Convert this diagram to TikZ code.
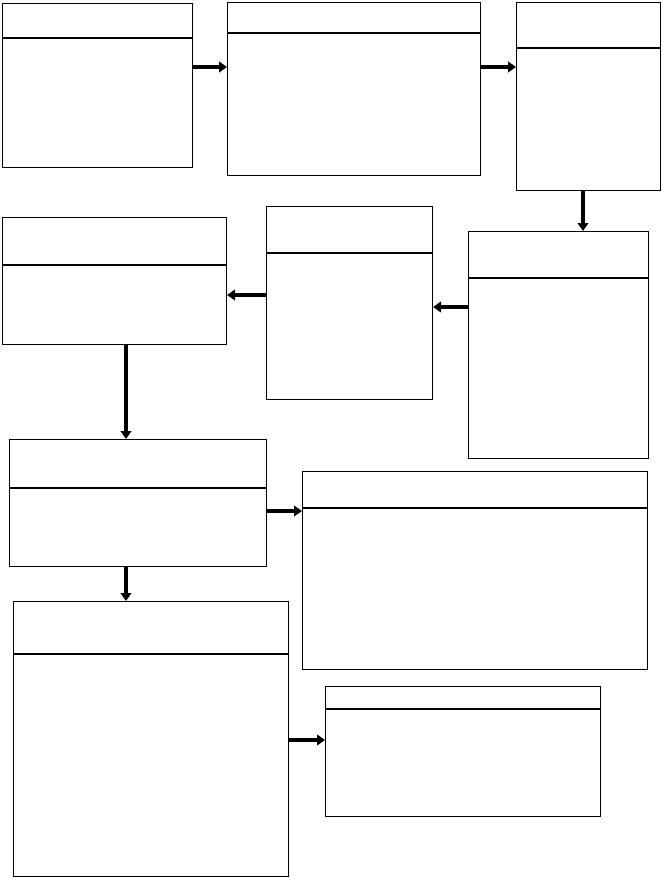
\documentclass[tikz,border=0pt]{standalone}
\usetikzlibrary{arrows.meta,calc}
\tikzset{>=latex,
  panel/.style={draw,line width=.8pt,anchor=north west,inner sep=0pt},
  flow/.style={-{Triangle[length=6pt,width=8pt]},line width=3.2pt}}
% \panel{name}{x}{y}{width}{height}{header}
\newcommand{\panel}[6]{%
  \node[panel,minimum width=#4*.75pt,minimum height=#5*.75pt] (#1) at (#2,#3) {};
  \draw[line width=.8pt] (#2,{#3+#6}) -- ({#2+#4},{#3+#6});}
\begin{document}
\begin{tikzpicture}[x=.75pt,y=-.75pt]
  \useasboundingbox (0,0) rectangle (662,879);
  \panel{collect}{2}{3}{190}{164}{35}
  \panel{prepare}{227}{2}{253}{173}{31}
  \panel{train}{516}{2}{144}{188}{46}
  \panel{check}{468}{231}{180}{227}{47}
  \panel{tune}{266}{206}{166}{193}{47}
  \panel{select}{2}{217}{224}{127}{48}
  \panel{test}{9}{439}{257}{127}{49}
  \panel{report}{302}{471}{345}{198}{37}
  \panel{deploy}{13}{601}{275}{275}{53}
  \panel{monitor}{325}{686}{275}{130}{23}

  \draw[flow] (collect.east |- 0,67) -- (prepare.west |- 0,67);
  \draw[flow] (prepare.east |- 0,67) -- (train.west |- 0,67);
  \draw[flow] (train.south -| 583,0) -- (check.north -| 583,0);
  \draw[flow] (check.west |- 0,307) -- (tune.east |- 0,307);
  \draw[flow] (tune.west |- 0,295) -- (select.east |- 0,295);
  \draw[flow] (select.south -| 126,0) -- (test.north -| 126,0);
  \draw[flow] (test.east |- 0,511) -- (report.west |- 0,511);
  \draw[flow] (test.south -| 126,0) -- (deploy.north -| 126,0);
  \draw[flow] (deploy.east |- 0,740) -- (monitor.west |- 0,740);
\end{tikzpicture}
\end{document}
